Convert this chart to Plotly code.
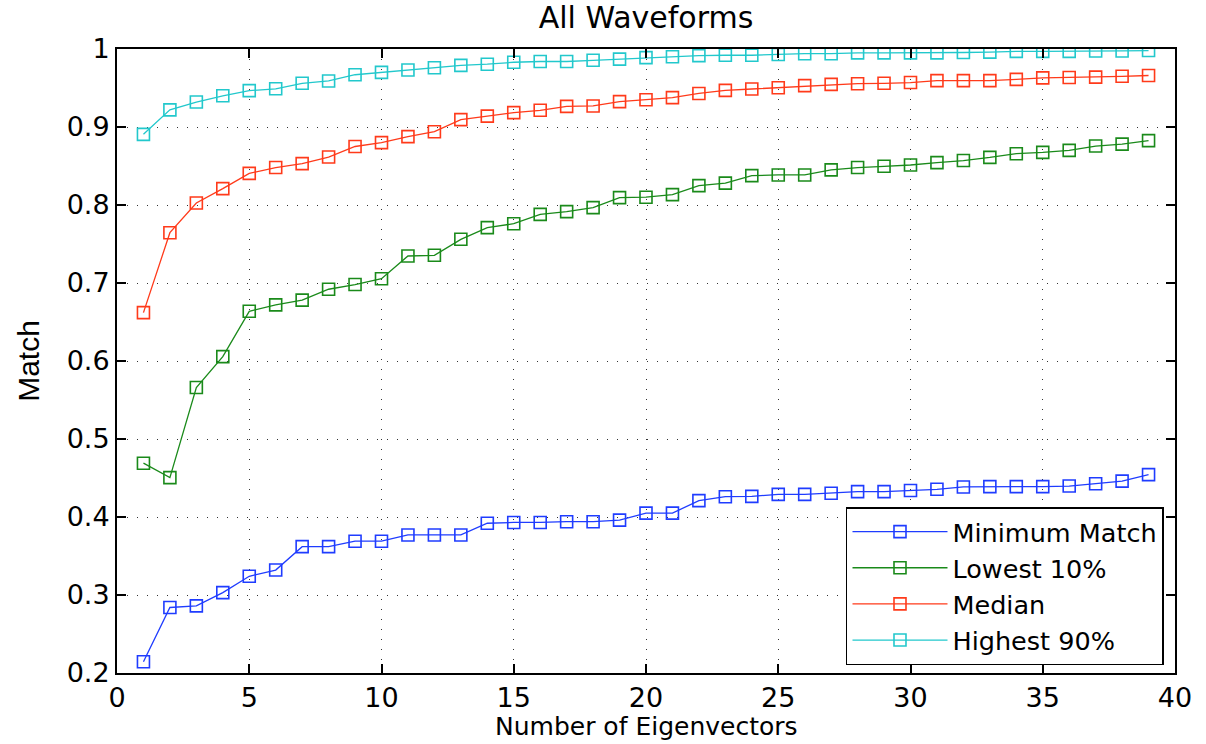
import plotly.graph_objects as go

# Number of eigenvectors used in the reconstruction
n_eigen = list(range(1, 40))

minimum_match = [
    0.2145, 0.284, 0.286, 0.303, 0.324, 0.332, 0.362, 0.362, 0.369, 0.369,
    0.377, 0.377, 0.377, 0.392, 0.393, 0.393, 0.394, 0.394, 0.396, 0.405,
    0.405, 0.421, 0.426, 0.4265, 0.429, 0.429, 0.4305, 0.4325, 0.4325, 0.434,
    0.4355, 0.4385, 0.439, 0.439, 0.439, 0.4397, 0.4427, 0.446, 0.4543,
]
lowest_10 = [
    0.469, 0.4505, 0.566, 0.6056, 0.6637, 0.672, 0.678, 0.692, 0.698, 0.7055,
    0.7346, 0.7355, 0.756, 0.771, 0.776, 0.788, 0.7915, 0.7966, 0.8094, 0.810,
    0.8133, 0.8248, 0.828, 0.8376, 0.8385, 0.8385, 0.845, 0.848, 0.8496, 0.8513,
    0.8543, 0.857, 0.861, 0.8658, 0.8675, 0.870, 0.8756, 0.878, 0.8825,
]
median = [
    0.662, 0.7645, 0.8026, 0.821, 0.8406, 0.848, 0.853, 0.8615, 0.875, 0.880,
    0.8876, 0.894, 0.9094, 0.914, 0.9184, 0.9214, 0.9265, 0.927, 0.9325, 0.935,
    0.9376, 0.943, 0.947, 0.9487, 0.9504, 0.953, 0.9547, 0.9555, 0.956, 0.957,
    0.9594, 0.9594, 0.9594, 0.961, 0.963, 0.9635, 0.964, 0.965, 0.966,
]
highest_90 = [
    0.8906, 0.922, 0.932, 0.940, 0.9466, 0.949, 0.956, 0.959, 0.967, 0.970,
    0.973, 0.976, 0.979, 0.9805, 0.983, 0.984, 0.984, 0.9855, 0.987, 0.989,
    0.990, 0.9915, 0.992, 0.992, 0.993, 0.994, 0.994, 0.995, 0.995, 0.995,
    0.995, 0.9955, 0.996, 0.997, 0.997, 0.997, 0.9975, 0.9975, 0.998,
]

series = [
    ("Minimum Match", minimum_match, "#1f3cff"),
    ("Lowest 10%", lowest_10, "#1a8a1a"),
    ("Median", median, "#ff3a1a"),
    ("Highest 90%", highest_90, "#22c8cc"),
]

fig = go.Figure()
for name, values, color in series:
    fig.add_trace(go.Scatter(
        x=n_eigen, y=values, name=name, mode="lines+markers",
        line=dict(color=color, width=1.3),
        marker=dict(symbol="square-open", size=12, color=color,
                    line=dict(color=color, width=1.6)),
    ))

axis_common = dict(
    showline=True, linecolor="black", linewidth=2, mirror="allticks",
    ticks="inside", ticklen=9, tickwidth=1.5, tickcolor="black",
    showgrid=True, gridcolor="#333333", gridwidth=1, griddash="1px,9px",
    zeroline=False, automargin=False,
    tickfont=dict(family="DejaVu Sans", size=27, color="black"),
)

fig.update_xaxes(range=[0, 40], dtick=5, tick0=0, **axis_common)
fig.update_yaxes(
    range=[0.2, 1], dtick=0.1, tick0=0.2,
    title=dict(text="Match", standoff=18,
               font=dict(family="Liberation Sans", size=30, color="black")),
    **axis_common,
)

# x-axis caption placed just under the tick labels
fig.add_annotation(
    text="Number of Eigenvectors", xref="paper", yref="paper",
    x=0.5, y=-0.0865, xanchor="center", yanchor="middle", showarrow=False,
    font=dict(family="DejaVu Sans", size=25, color="black"),
)

fig.update_layout(
    width=1206, height=744,
    margin=dict(l=117, r=31, t=49, b=71),
    paper_bgcolor="white", plot_bgcolor="white",
    title=dict(text="All Waveforms", x=0.5, xref="paper", xanchor="center",
               y=0.977, yanchor="middle",
               font=dict(family="DejaVu Sans", size=30, color="black")),
    legend=dict(
        x=0.9896, y=0.0128, xanchor="right", yanchor="bottom",
        bgcolor="white", bordercolor="black", borderwidth=1.5,
        font=dict(family="DejaVu Sans", size=25.5, color="black"),
        tracegroupgap=0, itemwidth=95,
    ),
    showlegend=True,
)

fig.write_html("out.html")
